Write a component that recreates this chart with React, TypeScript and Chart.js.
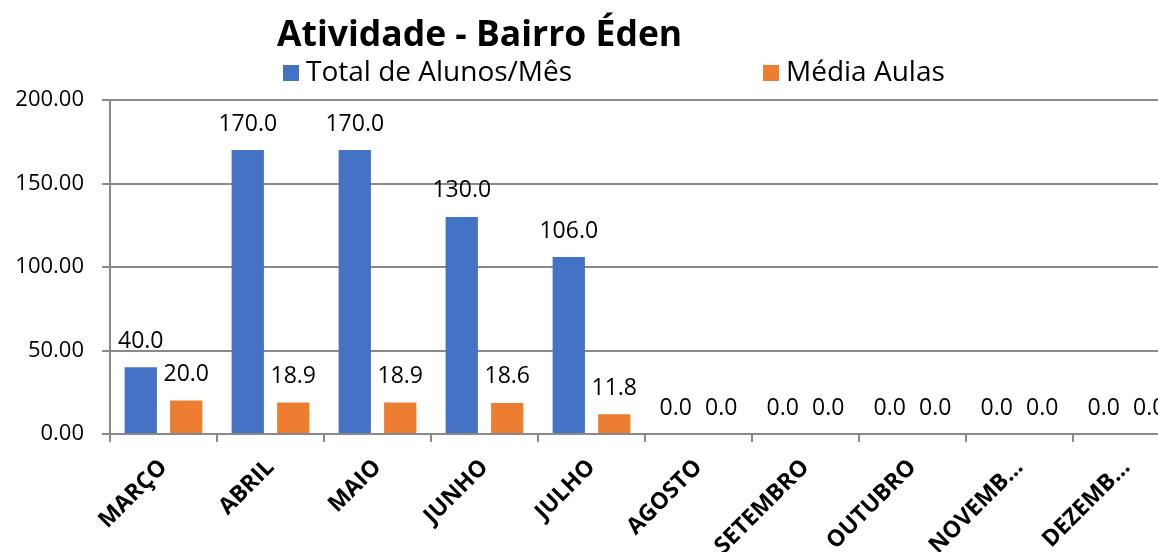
import React, { useEffect, useRef } from 'react';
import { Chart, registerables } from 'chart.js';

Chart.register(...registerables);

const chartTitle = 'Atividade - Bairro Éden';
const categories = ['MARÇO', 'ABRIL', 'MAIO', 'JUNHO', 'JULHO', 'AGOSTO', 'SETEMBRO', 'OUTUBRO', 'NOVEMBRO', 'DEZEMBRO'];
const tickLabels = ['MARÇO', 'ABRIL', 'MAIO', 'JUNHO', 'JULHO', 'AGOSTO', 'SETEMBRO', 'OUTUBRO', 'NOVEMB…', 'DEZEMB…'];
const seriesNames = ['Total de Alunos/Mês', 'Média Aulas'];
const totalAlunos = [40, 170, 170, 130, 106, 0, 0, 0, 0, 0];
const mediaAulas = [20, 18.9, 18.9, 18.6, 11.8, 0, 0, 0, 0, 0];
const yMin = 0;
const yMax = 200;
const yStep = 50;

const BLUE = '#4472C4';
const ORANGE = '#ED7D31';
const GRID = '#898989';
const FONT = '"Open Sans", sans-serif';

const headerPlugin = {
  id: 'header',
  afterDraw(chart: any) {
    const ctx = chart.ctx;
    ctx.save();
    ctx.fillStyle = '#000';
    ctx.textBaseline = 'middle';
    ctx.textAlign = 'left';
    ctx.font = `bold 35.5px ${FONT}`;
    ctx.fillText(chartTitle, 277, 36);
    ctx.font = `28px ${FONT}`;
    const items = [
      { x: 283, color: BLUE, text: seriesNames[0] },
      { x: 763, color: ORANGE, text: seriesNames[1] },
    ];
    items.forEach((it) => {
      ctx.fillStyle = it.color;
      ctx.fillRect(it.x, 65, 16, 16);
      ctx.fillStyle = '#000';
      ctx.fillText(it.text, it.x + 23, 73);
    });
    ctx.restore();
  },
};

const dataLabelPlugin = {
  id: 'dataLabels',
  afterDatasetsDraw(chart: any) {
    const ctx = chart.ctx;
    ctx.save();
    ctx.font = `23px ${FONT}`;
    ctx.fillStyle = '#000';
    ctx.textAlign = 'center';
    ctx.textBaseline = 'middle';
    chart.data.datasets.forEach((ds: any, di: number) => {
      const meta = chart.getDatasetMeta(di);
      meta.data.forEach((el: any, i: number) => {
        const v = ds.data[i];
        ctx.fillText(Number(v).toFixed(1), el.x, el.y - 26);
      });
    });
    ctx.restore();
  },
};

export default function App() {
  const ref = useRef<HTMLCanvasElement | null>(null);
  useEffect(() => {
    if (!ref.current) return;
    const chart = new Chart(ref.current, {
      type: 'bar',
      data: {
        labels: categories,
        datasets: [
          { label: seriesNames[0], data: totalAlunos, backgroundColor: BLUE, categoryPercentage: 0.85, barPercentage: 0.71 },
          { label: seriesNames[1], data: mediaAulas, backgroundColor: ORANGE, categoryPercentage: 0.85, barPercentage: 0.71 },
        ],
      },
      options: {
        animation: false,
        responsive: false,
        maintainAspectRatio: false,
        layout: { padding: { top: 100, right: 20, left: 0, bottom: 0 } },
        plugins: {
          legend: { display: false },
          title: { display: false },
          tooltip: { enabled: false },
        },
        scales: {
          x: {
            offset: true,
            grid: { offset: true, drawOnChartArea: false, drawTicks: true, tickLength: 8, color: GRID, lineWidth: 2 },
            border: { color: GRID, width: 2 },
            ticks: {
              autoSkip: false,
              maxRotation: 45,
              minRotation: 45,
              padding: 12,
              color: '#000',
              font: { family: FONT, size: 23, weight: 'bold' },
              callback: (_v: any, i: number) => tickLabels[i],
            },
            afterFit: (s: any) => { s.height = 118; },
          },
          y: {
            min: yMin,
            max: yMax,
            grid: { color: GRID, lineWidth: 2, tickLength: 8 },
            border: { color: GRID, width: 2 },
            ticks: {
              stepSize: yStep,
              padding: 18,
              color: '#000',
              font: { family: FONT, size: 22 },
              callback: (v: any) => Number(v).toFixed(2),
            },
            afterFit: (s: any) => { s.width = 110; },
          },
        },
      },
      plugins: [headerPlugin, dataLabelPlugin],
    });
    return () => chart.destroy();
  }, []);
  return (
    <div style={{ position: 'absolute', left: 0, top: 0, width: 1158, height: 552, overflow: 'hidden', background: '#fff' }}>
      <canvas ref={ref} width={1200} height={552} style={{ width: 1200, height: 552, display: 'block' }} />
    </div>
  );
}
